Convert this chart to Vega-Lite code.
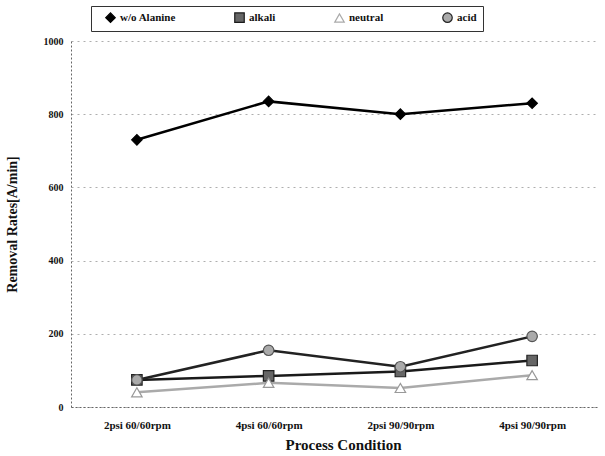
{
  "$schema": "https://vega.github.io/schema/vega-lite/v6.json",
  "width": 527,
  "height": 366,
  "background": "white",
  "config": {
    "font": "Liberation Serif",
    "view": {"stroke": null}
  },
  "data": {
    "values": [
      {"condition": "2psi 60/60rpm", "series": "w/o Alanine", "rate": 730},
      {"condition": "4psi 60/60rpm", "series": "w/o Alanine", "rate": 835},
      {"condition": "2psi 90/90rpm", "series": "w/o Alanine", "rate": 800},
      {"condition": "4psi 90/90rpm", "series": "w/o Alanine", "rate": 830},
      {"condition": "2psi 60/60rpm", "series": "alkali", "rate": 74},
      {"condition": "4psi 60/60rpm", "series": "alkali", "rate": 85},
      {"condition": "2psi 90/90rpm", "series": "alkali", "rate": 97},
      {"condition": "4psi 90/90rpm", "series": "alkali", "rate": 127},
      {"condition": "2psi 60/60rpm", "series": "neutral", "rate": 40},
      {"condition": "4psi 60/60rpm", "series": "neutral", "rate": 66},
      {"condition": "2psi 90/90rpm", "series": "neutral", "rate": 52},
      {"condition": "4psi 90/90rpm", "series": "neutral", "rate": 87},
      {"condition": "2psi 60/60rpm", "series": "acid", "rate": 74},
      {"condition": "4psi 60/60rpm", "series": "acid", "rate": 155},
      {"condition": "2psi 90/90rpm", "series": "acid", "rate": 110},
      {"condition": "4psi 90/90rpm", "series": "acid", "rate": 193}
    ]
  },
  "encoding": {
    "x": {
      "field": "condition",
      "type": "nominal",
      "sort": ["2psi 60/60rpm", "4psi 60/60rpm", "2psi 90/90rpm", "4psi 90/90rpm"],
      "scale": {"type": "point", "padding": 0.5},
      "axis": {
        "title": "Process Condition",
        "titleFont": "Liberation Serif",
        "titleFontSize": 15,
        "titleFontWeight": "bold",
        "titleColor": "#111",
        "titlePadding": 7,
        "titleX": 272,
        "labelAngle": 0,
        "labelFont": "Liberation Serif",
        "labelFontSize": 11,
        "labelFontWeight": "bold",
        "labelColor": "#111",
        "labelPadding": 12,
        "ticks": false,
        "domainColor": "#666",
        "domainDash": [2, 2],
        "domainWidth": 1,
        "grid": false
      }
    },
    "y": {
      "field": "rate",
      "type": "quantitative",
      "scale": {"domain": [0, 1000], "nice": false},
      "axis": {
        "title": "Removal Rates[A/min]",
        "titleFont": "Liberation Serif",
        "titleFontSize": 14,
        "titleFontWeight": "bold",
        "titleColor": "#111",
        "titlePadding": 24,
        "values": [0, 200, 400, 600, 800, 1000],
        "format": "d",
        "labelFont": "Liberation Serif",
        "labelFontSize": 10,
        "labelFontWeight": "bold",
        "labelColor": "#111",
        "labelPadding": 8,
        "ticks": false,
        "domainColor": "#666",
        "domainDash": [2, 2],
        "grid": true,
        "gridColor": "#999",
        "gridDash": [2, 4],
        "gridWidth": 0.8
      }
    }
  },
  "layer": [
    {
      "mark": {"type": "line", "strokeWidth": 2.5},
      "encoding": {
        "color": {
          "field": "series",
          "type": "nominal",
          "sort": ["w/o Alanine", "alkali", "neutral", "acid"],
          "scale": {"domain": ["w/o Alanine", "alkali", "neutral", "acid"], "range": ["#000000", "#1a1a1a", "#aaaaaa", "#222222"]},
          "legend": {
            "title": null,
            "orient": "none",
            "legendX": 20,
            "legendY": -35,
            "direction": "horizontal",
            "columns": 4,
            "columnPadding": 50,
            "labelFont": "Liberation Serif",
            "labelFontSize": 11,
            "labelFontWeight": "bold",
            "labelColor": "#111",
            "symbolSize": 90,
            "symbolStrokeWidth": 1.2,
            "strokeColor": "#333",
            "padding": 6,
            "symbolOffset": 8,
            "fillColor": "white"
          }
        }
      }
    },
    {
      "mark": {"type": "point", "size": 110, "opacity": 1, "strokeWidth": 1.2},
      "encoding": {
        "shape": {
          "field": "series",
          "type": "nominal",
          "sort": ["w/o Alanine", "alkali", "neutral", "acid"],
          "scale": {"domain": ["w/o Alanine", "alkali", "neutral", "acid"], "range": ["diamond", "square", "triangle-up", "circle"]}
        },
        "fill": {
          "field": "series",
          "type": "nominal",
          "sort": ["w/o Alanine", "alkali", "neutral", "acid"],
          "scale": {"domain": ["w/o Alanine", "alkali", "neutral", "acid"], "range": ["#000000", "#666666", "#ffffff", "#aaaaaa"]}
        },
        "stroke": {
          "field": "series",
          "type": "nominal",
          "sort": ["w/o Alanine", "alkali", "neutral", "acid"],
          "scale": {"domain": ["w/o Alanine", "alkali", "neutral", "acid"], "range": ["#000000", "#222222", "#999999", "#555555"]}
        }
      }
    }
  ]
}
